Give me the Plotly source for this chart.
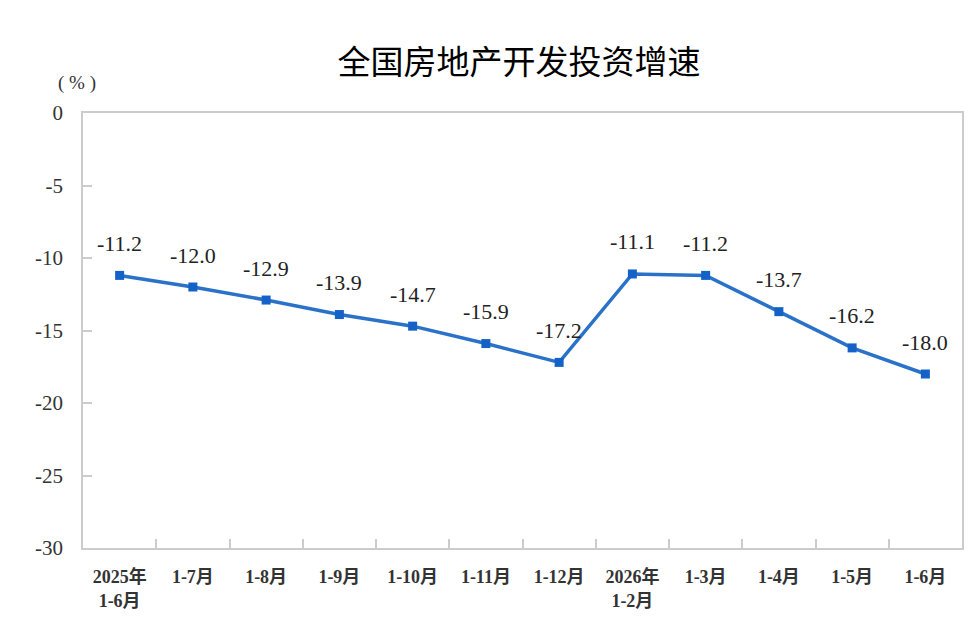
import plotly.graph_objects as go

categories = ["2025年<br>1-6月", "1-7月", "1-8月", "1-9月", "1-10月", "1-11月", "1-12月",
              "2026年<br>1-2月", "1-3月", "1-4月", "1-5月", "1-6月"]
values = [-11.2, -12.0, -12.9, -13.9, -14.7, -15.9, -17.2, -11.1, -11.2, -13.7, -16.2, -18.0]
labels = ["-11.2", "-12.0", "-12.9", "-13.9", "-14.7", "-15.9", "-17.2", "-11.1", "-11.2", "-13.7", "-16.2", "-18.0"]
yticks = [0, -5, -10, -15, -20, -25, -30]

serif = "Liberation Serif, Noto Sans CJK SC, serif"

fig = go.Figure()
fig.add_trace(go.Scatter(
    x=categories, y=values, mode="lines+markers",
    line=dict(color="#2a72c8", width=3.5),
    marker=dict(symbol="square", size=9, color="#1462c8"),
    hoverinfo="skip",
))

for c, v, t in zip(categories, values, labels):
    fig.add_annotation(x=c, y=v, text=t, showarrow=False, yshift=32,
                       font=dict(family=serif, size=22, color="#222222"))

fig.add_annotation(xref="paper", yref="paper", x=-0.007, y=1.0, yshift=30,
                   xanchor="center", yanchor="middle", text="( % )", showarrow=False,
                   font=dict(family=serif, size=19, color="#333333"))

fig.update_layout(
    width=979, height=638,
    margin=dict(l=75, r=25, t=105, b=98),
    paper_bgcolor="white", plot_bgcolor="white",
    showlegend=False,
    title=dict(text="全国房地产开发投资增速", x=0.522, xanchor="center",
               y=0.915, yanchor="middle",
               font=dict(family="Noto Sans CJK SC", size=33, color="#000000")),
    xaxis=dict(type="category", range=[-0.5, 11.5], ticks="inside", tickson="boundaries",
               ticklen=9, tickcolor="#cccccc", tickwidth=1.5,
               showline=True, linecolor="#cccccc", linewidth=1.5, mirror=True,
               showgrid=False, zeroline=False, ticklabelstandoff=12,
               tickvals=categories, ticktext=["<b>" + c + "</b>" for c in categories],
               tickfont=dict(family=serif, size=18, color="#333333"),
               tickangle=0),
    yaxis=dict(range=[-30, 0], tickvals=yticks, ticktext=[str(v) for v in yticks],
               ticks="inside", ticklen=9, tickcolor="#cccccc", tickwidth=1.5,
               showline=True, linecolor="#cccccc", linewidth=1.5, mirror=True,
               showgrid=False, zeroline=False, ticklabelstandoff=14,
               tickfont=dict(family="Liberation Serif, serif", size=21, color="#333333")),
)

fig.write_html("out.html")
